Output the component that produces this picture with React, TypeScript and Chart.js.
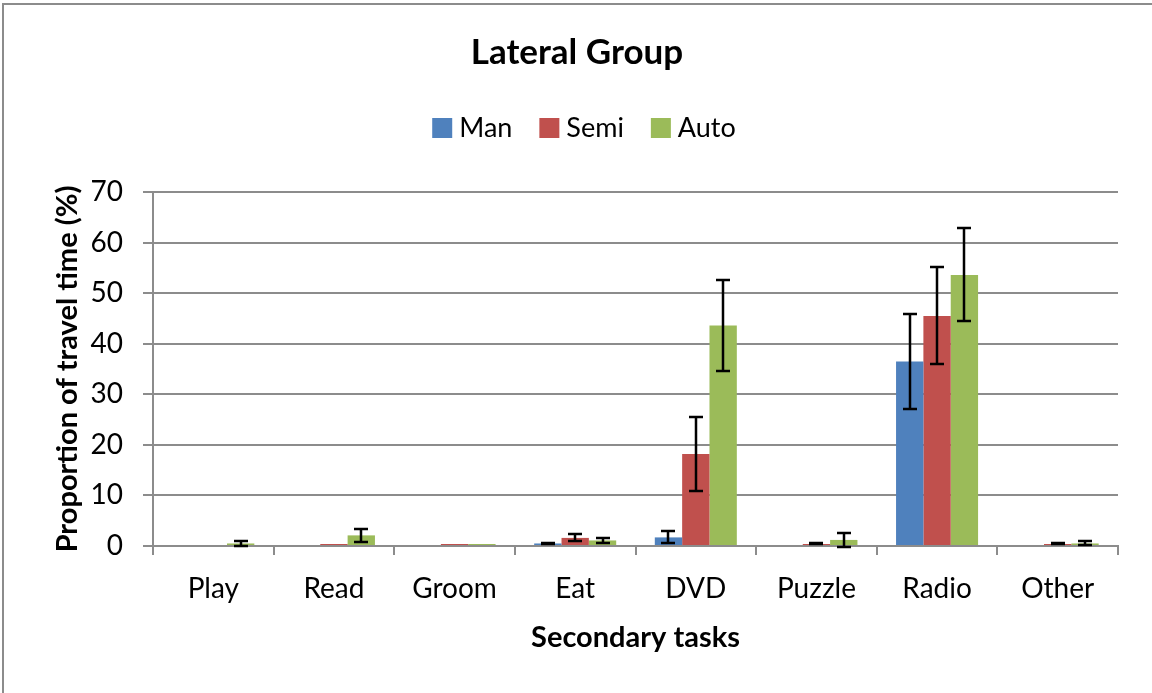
import React, { useEffect, useRef } from "react";
import { Chart, registerables } from "chart.js";

Chart.register(...registerables);

const chartTitle = "Lateral Group";
const xAxisTitle = "Secondary tasks";
const yAxisTitle = "Proportion of travel time (%)";

const categories = ["Play", "Read", "Groom", "Eat", "DVD", "Puzzle", "Radio", "Other"];
const seriesNames = ["Man", "Semi", "Auto"];
const seriesColors = ["#4F81BD", "#C0504D", "#9BBB59"];

const manValues = [0, 0, 0, 0.5, 1.7, 0, 36.5, 0];
const semiValues = [0, 0.4, 0.4, 1.6, 18.2, 0.4, 45.5, 0.4];
const autoValues = [0.5, 2.1, 0.4, 1.1, 43.6, 1.2, 53.6, 0.5];

const manErrors = [0, 0, 0, 0.1, 1.2, 0, 9.4, 0];
const semiErrors = [0, 0, 0, 0.7, 7.3, 0.1, 9.6, 0.1];
const autoErrors = [0.5, 1.3, 0, 0.5, 9.0, 1.3, 9.2, 0.4];

const yMin = 0;
const yMax = 70;
const yStep = 10;

const FONT = "Lato, 'Noto Sans', sans-serif";
const GRID = "#8c8c8c";

const errorSets = [manErrors, semiErrors, autoErrors];

const errorBarPlugin = {
  id: "errorBars",
  afterDatasetsDraw(chart: any) {
    const ctx = chart.ctx;
    const yScale = chart.scales.y;
    ctx.save();
    ctx.strokeStyle = "#000";
    ctx.lineWidth = 2.5;
    chart.data.datasets.forEach((ds: any, i: number) => {
      const meta = chart.getDatasetMeta(i);
      const errs = errorSets[i];
      meta.data.forEach((bar: any, j: number) => {
        const e = errs[j];
        if (!e) return;
        const v = ds.data[j];
        const yt = Math.round(yScale.getPixelForValue(v + e));
        const yb = Math.round(yScale.getPixelForValue(v - e));
        const x = Math.round(bar.x);
        const cap = 7;
        ctx.beginPath();
        ctx.moveTo(x, yt);
        ctx.lineTo(x, yb);
        ctx.moveTo(x - cap, yt);
        ctx.lineTo(x + cap, yt);
        ctx.moveTo(x - cap, yb);
        ctx.lineTo(x + cap, yb);
        ctx.stroke();
      });
    });
    ctx.restore();
  },
};

const decorPlugin = {
  id: "decor",
  afterDraw(chart: any) {
    const ctx = chart.ctx;
    ctx.save();
    // outer frame
    ctx.strokeStyle = GRID;
    ctx.lineWidth = 2;
    ctx.strokeRect(3, 4, 1400, 1000);
    // title
    ctx.fillStyle = "#000";
    ctx.font = `bold 35px ${FONT}`;
    ctx.textAlign = "center";
    ctx.textBaseline = "alphabetic";
    ctx.fillText(chartTitle, 577, 64);
    // legend
    ctx.font = `27px ${FONT}`;
    ctx.textAlign = "left";
    const box = 20;
    const gapText = 7;
    const gapItem = 27;
    const widths = seriesNames.map((n) => ctx.measureText(n).width);
    const total = widths.reduce((a, w) => a + box + gapText + w, 0) + gapItem * (seriesNames.length - 1);
    let x = 584 - total / 2;
    seriesNames.forEach((n, i) => {
      ctx.fillStyle = seriesColors[i];
      ctx.fillRect(x, 118, box, box);
      ctx.fillStyle = "#000";
      ctx.fillText(n, x + box + gapText, 137);
      x += box + gapText + widths[i] + gapItem;
    });
    ctx.restore();
  },
};

export default function App() {
  const ref = useRef<HTMLCanvasElement | null>(null);

  useEffect(() => {
    if (!ref.current) return;
    const datasetsValues = [manValues, semiValues, autoValues];
    const chart = new Chart(ref.current, {
      type: "bar",
      data: {
        labels: categories,
        datasets: seriesNames.map((name, i) => ({
          label: name,
          data: datasetsValues[i],
          backgroundColor: seriesColors[i],
          borderWidth: 0,
          categoryPercentage: 0.68,
          barPercentage: 1.0,
        })),
      },
      options: {
        responsive: false,
        animation: false,
        devicePixelRatio: 1,
        layout: { padding: { top: 192, right: 34, bottom: 0, left: 0 } },
        plugins: {
          legend: { display: false },
          title: { display: false },
          tooltip: { enabled: false },
        },
        scales: {
          x: {
            grid: {
              display: true,
              drawOnChartArea: false,
              drawTicks: true,
              tickLength: 9,
              color: GRID,
              lineWidth: 2,
              offset: true,
            },
            border: { display: true, color: GRID, width: 2 },
            ticks: { color: "#000", font: { family: FONT, size: 28 }, padding: 17 },
            title: {
              display: true,
              text: xAxisTitle,
              color: "#000",
              font: { family: FONT, size: 29, weight: "bold" },
              padding: { top: 0, bottom: 38 },
            },
            afterFit(scale: any) {
              scale.height = 147;
            },
          },
          y: {
            min: yMin,
            max: yMax,
            ticks: { stepSize: yStep, color: "#000", font: { family: FONT, size: 28 }, padding: 20 },
            grid: { color: GRID, lineWidth: 2, tickLength: 10, drawTicks: true },
            border: { display: true, color: GRID, width: 2 },
            title: {
              display: true,
              text: yAxisTitle,
              color: "#000",
              font: { family: FONT, size: 29, weight: "bold" },
              padding: { top: 50, bottom: 0 },
            },
            afterFit(scale: any) {
              scale.width = 153;
            },
          },
        },
      },
      plugins: [errorBarPlugin, decorPlugin],
    } as any);
    return () => chart.destroy();
  }, []);

  return (
    <div style={{ position: "absolute", left: 0, top: 0, width: 1152, height: 693, background: "#fff" }}>
      <canvas ref={ref} width={1152} height={693} style={{ width: 1152, height: 693, display: "block" }} />
    </div>
  );
}
